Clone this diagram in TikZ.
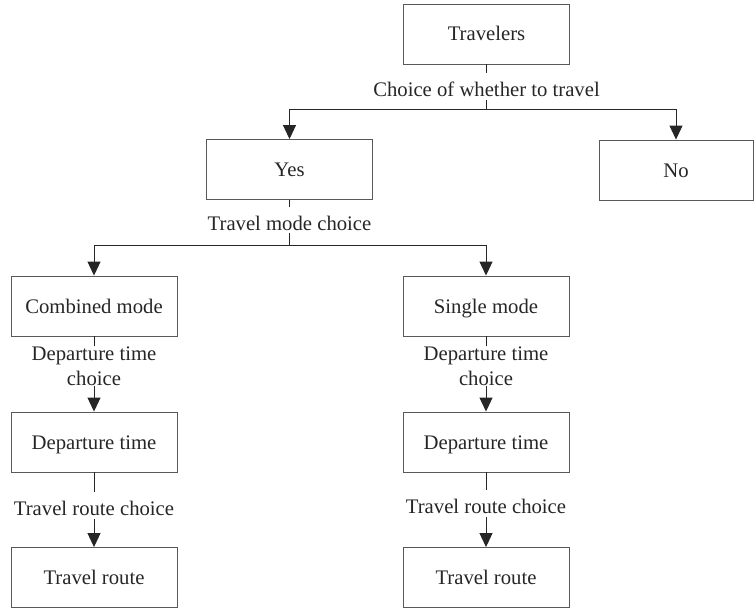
\documentclass[tikz,border=0pt]{standalone}
\usepackage{fontspec}
\setmainfont{Liberation Serif}
\usetikzlibrary{arrows.meta,positioning}

\begin{document}
\begin{tikzpicture}[
  x=1pt, y=1pt,
  box/.style={draw=black!65, line width=0.9pt, minimum width=166pt, minimum height=60pt, inner sep=0pt, text height=16pt, text depth=2pt, text=black!85, font=\fontsize{20.7}{25}\selectfont},
  lbl/.style={inner sep=0pt, text height=23pt, text depth=3pt, text=black!85, font=\fontsize{20.7}{25}\selectfont},
  lbltwo/.style={inner sep=0pt, align=center, text=black!85, font=\fontsize{20.7}{25}\selectfont},
  line/.style={draw=black!85, line width=1pt},
  arrow/.style={line, -{Triangle[length=14pt,width=13pt]}}
]
\useasboundingbox (0,0) rectangle (754,-610);

% Nodes
\node[box] (trav) at (486.5,-34) {Travelers};
\node[lbl, below=9pt of trav] (q1) {Choice of whether to travel};
\node[box] (yes) at (289.5,-169.5) {Yes};
\node[box, minimum width=154pt] (no) at (676,-170) {No};
\node[lbl, below=7pt of yes] (q2) {Travel mode choice};

\node[box] (comb) at (94,-306) {Combined mode};
\node[lbltwo, below=10pt of comb] (q3) {Departure time\\choice};
\node[box] (dep1) at (94,-442) {Departure time};
\node[lbl, below=20pt of dep1] (q4) {Travel route choice};
\node[box] (route1) at (94,-577.5) {Travel route};

\node[box] (single) at (486,-306) {Single mode};
\node[lbltwo, below=10pt of single] (q5) {Departure time\\choice};
\node[box] (dep2) at (486,-442) {Departure time};
\node[lbl, below=18pt of dep2] (q6) {Travel route choice};
\node[box] (route2) at (486,-577.5) {Travel route};

\coordinate (j1) at (486.5,-109);
\coordinate (j2) at (289.5,-245);

% Arrows
\draw[line] (trav) -- (q1);
\draw[line] (q1) -- (j1);
\draw[arrow] (j1) -| (yes);
\draw[arrow] (j1) -| (no);

\draw[line] (yes) -- (q2);
\draw[line] (q2) -- (j2);
\draw[arrow] (j2) -| (comb);
\draw[arrow] (j2) -| (single);

\draw[line] (comb) -- (q3);
\draw[arrow] (q3) -- (dep1);
\draw[line] (dep1) -- (q4);
\draw[arrow] (q4) -- (route1);

\draw[line] (single) -- (q5);
\draw[arrow] (q5) -- (dep2);
\draw[line] (dep2) -- (q6);
\draw[arrow] (q6) -- (route2);

\end{tikzpicture}
\end{document}
